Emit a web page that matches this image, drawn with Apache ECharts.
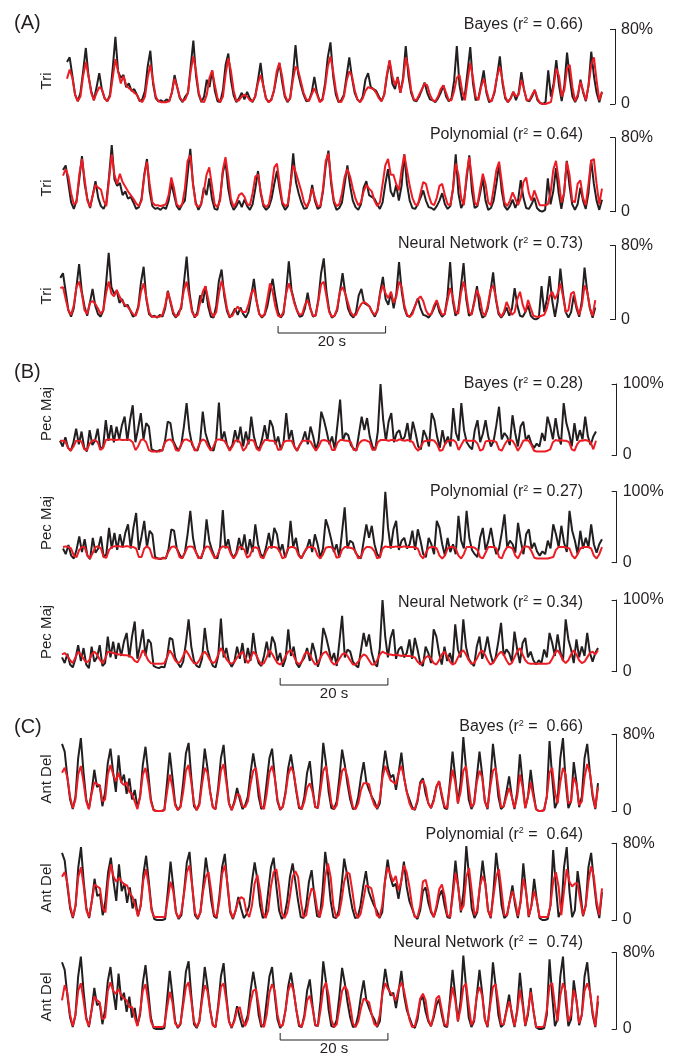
<!DOCTYPE html>
<html><head><meta charset="utf-8">
<script src="https://cdn.jsdelivr.net/npm/echarts@6/dist/echarts.min.js"></script>
<style>html,body{margin:0;padding:0;background:#fff}#c{width:679px;height:1059px}</style>
</head><body><div id="c"></div>
<script>
// ---- data (percent of max EMG), sampled every 0.5 s over 100 s ----
const sampleSec = 0.5;
const triActual = [45,50,30,10,3,12,35,60,30,14,4,18,33,15,6,3,10,38,72,35,
28,31,18,22,14,16,10,3,5,14,40,57,22,6,3,4,2,5,3,12,
31,18,6,2,8,12,40,68,30,10,2,8,26,18,36,14,3,2,15,42,
54,25,9,2,6,12,5,13,6,2,8,25,44,20,6,2,5,14,30,44,
24,8,2,6,30,63,32,20,10,3,4,12,29,12,3,5,22,50,66,30,
10,2,4,10,30,50,28,12,5,2,8,26,33,18,16,14,8,3,10,30,
46,22,16,29,12,28,62,30,12,4,3,8,15,23,12,5,4,2,6,12,
20,8,3,6,25,62,20,4,10,35,61,22,4,6,20,36,12,2,4,12,
30,51,22,6,2,6,13,4,12,34,15,4,3,8,15,4,1,0,2,36,
8,22,47,20,3,20,55,28,8,2,8,26,12,3,20,56,30,12,2,13];
const triBayes = [27,37,28,10,3,8,30,45,30,12,4,12,18,16,6,3,8,28,48,35,
22,30,20,17,15,12,10,4,2,8,28,42,25,8,3,2,2,2,3,12,
27,18,7,3,5,12,35,51,35,12,3,2,10,28,36,20,6,2,8,32,
49,35,14,3,4,8,10,8,4,3,8,22,31,20,6,2,4,15,35,44,
30,10,3,6,25,40,36,24,12,5,3,10,17,10,2,4,18,40,51,35,
15,3,2,8,25,35,30,15,5,2,6,14,18,17,16,12,6,3,10,32,
47,30,20,28,12,25,50,38,15,5,4,10,16,22,20,10,4,3,8,16,
20,12,4,4,14,28,31,14,4,25,44,28,8,4,18,27,15,4,3,14,
30,40,25,8,2,6,13,8,10,26,16,4,4,10,15,6,1,0,0,1,
2,18,38,30,8,15,38,42,18,3,10,24,14,4,20,42,50,25,4,13];
const triPoly = [39,46,38,20,8,10,40,57,35,12,5,18,29,26,24,12,6,35,62,40,
30,41,32,27,22,18,14,9,6,12,38,54,30,10,7,7,6,7,8,18,
37,25,8,5,8,25,55,61,30,8,5,8,22,40,48,28,8,5,12,45,
59,38,14,5,10,18,20,16,8,7,20,38,40,22,8,5,8,25,48,52,
30,10,6,8,30,50,42,32,22,10,5,12,25,15,6,6,25,55,63,35,
12,6,8,20,38,46,38,25,14,7,10,22,29,25,22,12,6,10,30,50,
57,40,40,30,23,45,62,45,28,15,8,7,20,32,30,18,9,7,15,28,
30,18,8,7,25,52,40,15,7,40,59,35,10,7,25,41,30,10,7,25,
45,54,32,10,6,12,21,14,7,15,32,37,20,12,23,15,7,7,7,8,
20,45,55,35,10,20,54,40,12,10,30,34,15,7,30,55,57,30,8,25];
const triNN = [34,35,22,10,5,15,35,41,28,10,6,18,20,17,12,6,10,28,41,28,
25,32,25,20,16,14,10,6,4,12,30,39,24,8,3,3,3,3,5,15,
30,20,8,3,5,15,32,41,25,8,3,5,18,30,36,22,8,3,8,28,
42,30,12,3,4,10,14,10,8,8,16,28,33,20,6,3,6,22,39,30,
14,4,3,8,28,39,30,18,10,5,6,16,21,12,4,4,20,38,41,25,
8,3,4,12,30,35,28,18,8,4,5,12,17,19,17,14,8,5,10,28,
37,28,23,30,18,25,41,35,15,5,3,6,15,22,25,20,10,5,6,15,
21,12,5,6,20,34,24,8,6,28,41,28,8,5,18,32,24,8,4,15,
32,37,24,8,3,8,19,12,5,8,22,30,16,8,21,12,4,3,3,4,
5,12,25,30,22,28,39,25,8,10,28,30,15,5,15,37,30,12,4,21];

const pecActual = [20,12,25,10,6,18,37,15,33,10,5,35,14,20,37,8,12,49,20,42,
18,40,22,42,54,20,49,70,18,37,59,22,45,40,8,6,5,7,6,20,
47,45,20,12,6,14,40,73,35,15,8,6,18,61,31,18,8,6,22,74,
20,33,14,7,14,35,18,40,12,33,15,54,26,12,8,22,42,20,49,40,
15,26,7,18,59,22,35,12,6,14,20,33,15,40,26,7,20,61,49,33,
15,26,8,42,78,20,31,28,14,9,6,30,54,35,52,26,12,7,33,100,
49,20,47,59,18,31,35,20,26,45,18,47,31,12,8,35,26,12,59,49,
26,10,35,15,26,12,66,31,20,73,35,18,12,8,35,49,18,30,49,26,
12,20,42,68,22,31,26,14,56,31,12,40,47,20,28,16,10,16,12,31,
20,54,40,22,52,28,15,73,45,31,12,45,20,35,22,54,26,14,26,33];
const pecBayes = [20,20,19,10,6,12,20,20,19,8,7,16,20,21,18,7,10,21,22,22,
21,21,22,21,21,22,21,18,7,12,21,22,18,7,5,5,5,5,7,18,
21,22,18,7,6,15,21,22,20,18,6,8,18,22,20,12,6,12,21,22,
21,20,14,6,12,20,21,17,6,10,20,21,20,9,6,15,21,21,20,20,
18,7,8,18,20,20,20,12,6,14,20,20,20,19,12,6,12,20,21,20,
18,7,7,17,21,21,20,20,18,7,7,16,20,21,20,18,7,8,18,21,
21,21,20,21,21,20,22,21,20,21,20,18,10,6,12,19,20,20,21,20,
15,6,7,16,20,20,21,18,7,14,21,20,20,20,20,16,6,8,19,20,
20,20,18,8,6,14,20,21,20,14,6,12,20,21,20,14,6,5,5,5,
5,6,8,18,21,20,21,20,20,18,8,6,15,20,20,21,20,18,8,20];
const pecPoly = [22,23,22,20,10,8,18,22,22,10,6,14,22,23,20,8,7,18,22,23,
23,23,22,23,23,22,22,20,8,8,20,23,20,8,6,6,6,6,7,16,
22,23,20,8,6,14,22,23,22,16,6,8,18,23,22,14,6,10,20,23,
22,22,12,6,12,22,22,18,7,10,20,22,20,8,6,16,22,22,22,21,
16,6,8,20,22,22,20,10,6,14,21,22,22,20,10,6,12,21,22,22,
18,7,8,18,22,22,21,20,16,6,8,18,22,22,21,16,6,8,20,23,
22,22,22,23,22,22,23,22,22,22,21,20,10,6,14,21,22,22,20,10,
6,10,20,22,22,20,10,6,12,22,22,22,21,18,8,6,14,22,22,22,
20,8,6,16,22,22,20,10,6,14,22,23,22,16,7,6,6,6,6,6,
7,8,18,22,22,22,21,20,10,6,12,20,22,22,22,20,10,6,12,22];
const pecNN = [24,26,22,16,12,20,28,24,18,13,15,24,28,24,17,12,18,28,27,26,
25,24,24,23,23,22,20,15,13,20,30,24,16,12,11,11,11,11,12,20,
30,24,16,12,14,22,30,24,17,12,11,16,24,28,23,16,12,14,24,33,
26,18,13,11,14,20,24,28,20,12,18,28,24,16,10,12,20,30,25,18,
12,10,14,22,28,30,22,14,10,14,24,28,24,16,10,12,20,26,28,22,
14,10,12,18,24,26,22,16,10,10,14,20,24,22,16,10,10,16,24,28,
26,24,24,23,24,23,22,23,22,22,21,20,14,10,14,20,22,18,12,10,
16,24,28,22,14,10,12,20,26,30,24,16,11,12,18,26,30,24,16,10,
12,18,24,28,24,16,10,12,20,28,33,24,16,12,11,11,11,11,11,11,
11,12,18,26,30,24,16,12,16,24,30,24,16,12,14,20,26,28,24,30];

const delActual = [70,62,35,12,2,15,55,76,40,12,2,20,43,25,27,5,20,50,65,40,
20,58,30,38,18,34,12,22,4,15,48,67,40,12,1,0,0,0,1,30,
61,35,8,1,5,30,60,71,35,5,1,8,35,65,45,20,4,2,25,55,
69,35,8,1,10,24,12,2,6,15,40,60,42,15,2,5,30,55,65,35,
10,1,5,20,45,59,40,20,3,2,15,40,52,25,4,3,30,71,50,20,
3,2,10,35,64,48,28,12,2,3,15,35,51,30,22,15,10,2,8,40,
63,45,35,38,22,40,61,35,20,12,4,1,10,30,34,18,8,3,12,25,
31,15,3,2,30,62,35,8,30,77,45,12,2,8,35,62,38,10,2,30,
70,45,15,2,5,20,36,15,2,20,59,30,3,15,43,20,2,0,0,1,
15,73,35,3,10,55,76,30,3,10,51,30,4,15,55,70,40,15,2,29];
const delBayes = [40,45,35,15,3,12,38,47,30,10,2,18,30,28,27,10,12,38,48,38,
31,40,30,27,30,20,18,10,2,15,38,45,30,10,1,0,0,0,1,20,
38,25,6,1,4,20,42,48,30,8,1,6,28,45,40,20,4,2,20,42,
49,30,8,1,8,18,16,5,4,10,28,42,45,25,5,2,18,40,47,35,
12,2,4,18,38,46,40,22,5,2,10,24,29,20,5,3,22,42,47,30,
8,2,6,25,42,45,35,18,4,2,8,22,29,29,28,14,6,3,12,35,
47,39,32,30,28,40,47,35,20,8,2,2,12,28,32,25,8,3,10,25,
31,18,5,3,25,43,30,8,20,42,47,25,4,8,30,42,35,10,3,25,
42,45,25,4,5,15,24,15,3,15,38,25,3,15,30,15,2,0,0,1,
15,40,45,20,8,30,45,38,8,10,35,28,6,10,35,49,40,18,3,25];
const delPoly = [45,50,38,15,3,15,45,55,35,10,3,20,37,35,33,12,8,40,58,45,
40,44,40,37,36,28,24,15,4,15,42,53,35,10,3,3,3,3,3,22,
40,30,8,2,8,28,50,57,35,8,2,8,30,45,50,30,6,3,20,48,
57,38,10,2,10,20,24,22,8,3,15,38,47,30,8,2,10,35,50,53,
35,8,2,8,25,45,51,45,20,3,5,22,33,30,12,3,15,45,59,45,
15,3,5,20,40,50,48,30,10,2,6,20,36,35,33,20,5,3,15,40,
55,48,40,46,31,40,57,50,35,15,3,3,15,40,42,30,10,3,15,32,
37,25,5,3,25,49,35,10,15,45,54,30,5,10,35,46,38,10,3,25,
45,53,30,5,5,20,30,20,4,18,43,30,4,15,30,20,3,3,3,3,
15,40,50,35,5,30,53,40,35,38,38,20,5,15,40,56,45,20,5,33];
const delNN = [30,46,38,15,3,15,40,48,30,10,3,20,34,30,28,10,12,40,49,40,
37,42,35,32,30,23,23,12,3,18,40,47,30,8,2,2,2,2,3,22,
39,28,6,2,6,25,44,49,30,8,2,8,30,46,40,20,4,2,22,44,
48,30,8,2,8,20,23,10,3,10,28,40,42,25,5,2,15,38,47,40,
15,3,4,20,40,48,40,20,5,2,12,30,35,22,5,3,20,42,49,35,
10,2,5,22,40,45,40,25,6,2,8,22,32,30,28,15,5,3,15,38,
48,42,38,35,30,42,49,40,25,10,2,3,15,32,37,30,10,3,15,32,
35,20,5,3,25,44,30,8,22,44,48,25,4,10,35,44,35,10,3,25,
44,47,28,5,5,18,29,18,3,18,41,25,4,18,39,20,2,2,2,3,
20,45,48,25,8,35,48,40,8,15,41,30,6,15,40,48,40,18,3,35];

const muscles = ['Tri', 'Pec Maj', 'Ant Del'];
const sectionLabels = ['(A)', '(B)', '(C)'];
const decoders = ['Bayes', 'Polynomial', 'Neural Network'];
const r2Text = [['0.66','0.64','0.73'], ['0.28','0.27','0.34'], ['0.66','0.64','0.74']];
const r2Gap = [' ', ' ', '  '];
const axisMax = [80, 100, 80];
const scaleBarSec = 20;
const scaleBarStartSec = 40.5;

const actuals = [triActual, pecActual, delActual];
const preds = [[triBayes, triPoly, triNN], [pecBayes, pecPoly, pecNN], [delBayes, delPoly, delNN]];

// ---- layout (page pixels) ----
const L = [
  {left:67, right:602, top:29.3, bottom:104, axisX:615, titleY:24.3, labY:81},
  {left:63, right:602, top:137.7, bottom:211.7, axisX:615, titleY:135, labY:188},
  {left:60.3, right:595.3, top:245.5, bottom:319.5, axisX:615, titleY:244, labY:296},
  {left:60, right:596, top:384, bottom:455, axisX:616.7, titleY:384, labY:414},
  {left:63, right:602, top:491.7, bottom:562.7, axisX:616.7, titleY:491.7, labY:523},
  {left:62, right:598, top:600, bottom:671.7, axisX:616.7, titleY:602.3, labY:632},
  {left:62, right:598, top:734.3, bottom:811, axisX:616.7, titleY:726.7, labY:779},
  {left:62, right:602, top:843.3, bottom:920, axisX:616.7, titleY:834.3, labY:888},
  {left:62, right:598, top:952.7, bottom:1029, axisX:616.7, titleY:942.3, labY:997}
];
const sectionY = [23, 372, 727];
const barY = [333, 685, 1040];
const FONT = 'Liberation Sans, Arial, Helvetica, sans-serif';
const INK = '#231f20';
const RED = '#ec1c24';

const cats = actuals[0].map((_, i) => (i * sampleSec).toFixed(1));
const grid = [], xAxis = [], yAxis = [], series = [];
for (let s = 0; s < 3; s++) {
  for (let d = 0; d < 3; d++) {
    const k = s * 3 + d, g = L[k];
    grid.push({left: g.left, width: g.right - g.left, top: g.top, height: g.bottom - g.top});
    xAxis.push({type: 'category', gridIndex: k, data: cats, boundaryGap: false, show: false});
    yAxis.push({
      type: 'value', gridIndex: k, position: 'right', offset: g.axisX - g.right,
      min: 0, max: axisMax[s], interval: axisMax[s],
      axisLine: {show: true, lineStyle: {color: INK, width: 1}},
      axisTick: {show: true, inside: true, length: 5, lineStyle: {color: INK, width: 1}},
      axisLabel: {margin: 6, fontSize: 16, fontFamily: FONT, color: INK,
        formatter: v => v === 0 ? '0' : v + '%'},
      splitLine: {show: false}
    });
    series.push({type: 'line', xAxisIndex: k, yAxisIndex: k, data: actuals[s],
      showSymbol: false, symbol: 'none', lineStyle: {color: INK, width: 2}, z: 2, silent: true});
    series.push({type: 'line', xAxisIndex: k, yAxisIndex: k, data: preds[s][d],
      showSymbol: false, symbol: 'none', lineStyle: {color: RED, width: 2}, z: 3, silent: true});
  }
}

const chart = echarts.init(document.getElementById('c'), null, {renderer: 'canvas'});
chart.setOption({animation: false, backgroundColor: '#fff', grid, xAxis, yAxis, series});

const graphic = [];
const richBase = {
  a: {fontSize: 16, fontFamily: FONT, fill: INK},
  s: {fontSize: 9, fontFamily: FONT, fill: INK, verticalAlign: 'top'}
};
for (let s = 0; s < 3; s++) {
  graphic.push({type: 'text', style: {text: sectionLabels[s], x: 14, y: sectionY[s],
    font: '20px ' + FONT, fill: INK, verticalAlign: 'middle'}});
  for (let d = 0; d < 3; d++) {
    const k = s * 3 + d, g = L[k];
    graphic.push({type: 'text', style: {
      text: '{a|' + decoders[d] + ' (r}{s|2}{a| =' + r2Gap[s] + r2Text[s][d] + ')}',
      rich: richBase, x: 583, y: g.titleY, align: 'right', verticalAlign: 'middle'}});
    graphic.push({type: 'text', x: 47, y: g.labY, rotation: Math.PI / 2,
      style: {text: muscles[s], x: 0, y: 0, font: '15px ' + FONT, fill: INK,
        align: 'center', verticalAlign: 'middle'}});
  }
  // scale bar under the last panel of each section, through the axis scale
  const ax = s * 3 + 2;
  const i0 = Math.round(scaleBarStartSec / sampleSec);
  const i1 = i0 + Math.round(scaleBarSec / sampleSec);
  const x1 = chart.convertToPixel({xAxisIndex: ax}, i0);
  const x2 = chart.convertToPixel({xAxisIndex: ax}, i1);
  const y = barY[s];
  graphic.push({type: 'polyline', shape: {points: [[x1, y - 7], [x1, y], [x2, y], [x2, y - 7]]},
    style: {stroke: INK, lineWidth: 1, fill: null}});
  graphic.push({type: 'text', style: {text: scaleBarSec + ' s', x: (x1 + x2) / 2, y: y + 9,
    font: '15px ' + FONT, fill: INK, align: 'center', verticalAlign: 'middle'}});
}
chart.setOption({graphic});
</script></body></html>
